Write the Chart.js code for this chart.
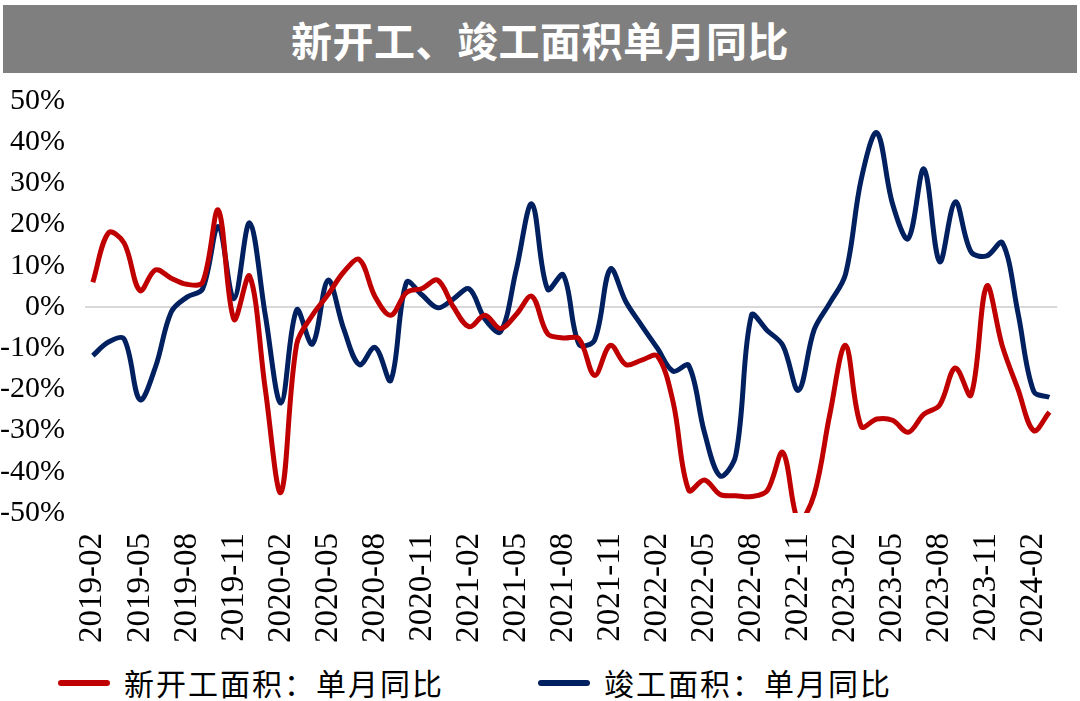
<!DOCTYPE html>
<html>
<head>
<meta charset="utf-8">
<script src="https://cdn.jsdelivr.net/npm/chart.js@4/dist/chart.umd.min.js"></script>
<style>
    body { margin: 0; width: 1080px; height: 701px; background: #fff; position: relative; overflow: hidden; }
    #title {
        position: absolute; left: 3px; top: 5px; width: 1074px; height: 68px;
        background: #7f7f7f; color: #fff; text-align: center;
        font: bold 41px "Noto Sans CJK SC", sans-serif; line-height: 68px; letter-spacing: 0.5px;
    }
    #wrap { position: absolute; left: 0; top: 63px; width: 1101px; height: 592px; }
    #legend { position: absolute; top: 662px; left: 0; width: 1080px; height: 40px; }
    .item { position: absolute; top: 0; font: 30px "Noto Sans CJK SC", serif; color: #000; line-height: 40px; letter-spacing: 2px; }
    .swatch { position: absolute; top: 18px; width: 52px; height: 6px; border-radius: 3px; }
</style>
</head>
<body>
<div id="title">新开工、竣工面积单月同比</div>
<div id="wrap"><canvas id="chart"></canvas></div>
<div id="legend"></div>

<script>
// Months (2019-02 .. 2024-03)
const months = [
    '2019-02', '2019-03', '2019-04', '2019-05', '2019-06', '2019-07', '2019-08', '2019-09', '2019-10', '2019-11', '2019-12',
    '2020-01', '2020-02', '2020-03', '2020-04', '2020-05', '2020-06', '2020-07', '2020-08', '2020-09', '2020-10', '2020-11', '2020-12',
    '2021-01', '2021-02', '2021-03', '2021-04', '2021-05', '2021-06', '2021-07', '2021-08', '2021-09', '2021-10', '2021-11', '2021-12',
    '2022-01', '2022-02', '2022-03', '2022-04', '2022-05', '2022-06', '2022-07', '2022-08', '2022-09', '2022-10', '2022-11', '2022-12',
    '2023-01', '2023-02', '2023-03', '2023-04', '2023-05', '2023-06', '2023-07', '2023-08', '2023-09', '2023-10', '2023-11', '2023-12',
    '2024-01', '2024-02', '2024-03'
];

// 新开工面积：单月同比 (%)
const newStarts = [
    6, 18, 15.5, 4, 9, 7, 5.5, 6, 23.5, -3, 7.5,
    -20, -45, -9, -2, 3, 8.5, 11.5, 2.5, -2, 3.5, 4.5, 6.5,
    0, -4.8, -2, -5.2, -1.8, 2.6, -6.5, -7.5, -7.7, -16.6, -9.3, -14,
    -12.9, -11.9, -23, -44.5, -42, -45.5, -45.8, -46, -44.6, -35.3, -52, -45.5,
    -26, -9.3, -29, -27.2, -27.5, -30.4, -26, -23.8, -14.8, -21.4, 5.1, -9.5,
    -20, -30, -25.5
];

// 竣工面积：单月同比 (%)
const completions = [
    -11.8, -8.5, -7.8, -22.5, -14.5, -1.2, 2.4, 4.4, 19.5, 2, 20.4,
    -2, -23.3, -0.7, -9, 6.5, -5.3, -14, -9.8, -17.8, 6, 2.9, -0.2,
    2, 4.4, -2.9, -6, 9, 25, 4.3, 7.8, -9, -8, 9.2, 1.2,
    -4.5, -10, -15.6, -14.2, -30.4, -41, -36, -2, -5.7, -9.3, -20.2, -5.5,
    1, 8, 31, 42.3, 25, 16.6, 33.5, 11, 25.5, 13.4, 12.4, 15.6,
    -1.5, -20.5, -21.9
];

const yTicks = [-50, -40, -30, -20, -10, 0, 10, 20, 30, 40, 50];

const seriesNames = ['新开工面积：单月同比', '竣工面积：单月同比'];
const seriesColors = ['#C00000', '#002060'];

// Build legend
const legendBox = document.getElementById('legend');
const legendX = [58, 538];
seriesNames.forEach((name, i) => {
    const sw = document.createElement('div');
    sw.className = 'swatch';
    sw.style.left = legendX[i] + 'px';
    sw.style.background = seriesColors[i];
    legendBox.appendChild(sw);
    const txt = document.createElement('div');
    txt.className = 'item';
    txt.style.left = (legendX[i] + 66) + 'px';
    txt.innerText = name;
    legendBox.appendChild(txt);
});

const ctx = document.getElementById('chart').getContext('2d');

const chart = new Chart(ctx, {
    type: 'line',
    data: {
        labels: months,
        datasets: [
            {
                label: seriesNames[0],
                data: newStarts,
                borderColor: seriesColors[0],
                borderWidth: 5,
                pointRadius: 0,
                tension: 0.35,
                fill: false
            },
            {
                label: seriesNames[1],
                data: completions,
                borderColor: seriesColors[1],
                borderWidth: 5,
                pointRadius: 0,
                tension: 0.35,
                fill: false
            }
        ]
    },
    options: {
        responsive: true,
        maintainAspectRatio: false,
        animation: false,
        layout: { padding: { top: 2, right: 0, bottom: 0, left: -20 } },
        plugins: {
            legend: { display: false },
            tooltip: { enabled: false }
        },
        scales: {
            x: {
                offset: true,
                grid: { display: false },
                border: { display: false },
                ticks: {
                    autoSkip: false,
                    maxRotation: 90,
                    minRotation: 90,
                    padding: 12,
                    color: '#000',
                    font: { family: '"Liberation Serif", serif', size: 33 },
                    callback: function(value, index) {
                        return index % 3 === 0 ? months[index] : '';
                    }
                }
            },
            y: {
                min: -50,
                max: 50,
                afterBuildTicks: function(scale) {
                    scale.ticks = yTicks.map(v => ({ value: v }));
                },
                border: { display: false },
                grid: {
                    drawTicks: false,
                    lineWidth: 2,
                    color: function(c) {
                        return c.tick && c.tick.value === 0 ? '#d9d9d9' : 'rgba(0,0,0,0)';
                    }
                },
                ticks: {
                    padding: 20,
                    color: '#000',
                    font: { family: '"Liberation Serif", serif', size: 30 },
                    callback: function(value) {
                        return value + '%';
                    }
                }
            }
        }
    }
});
</script>
</body>
</html>
